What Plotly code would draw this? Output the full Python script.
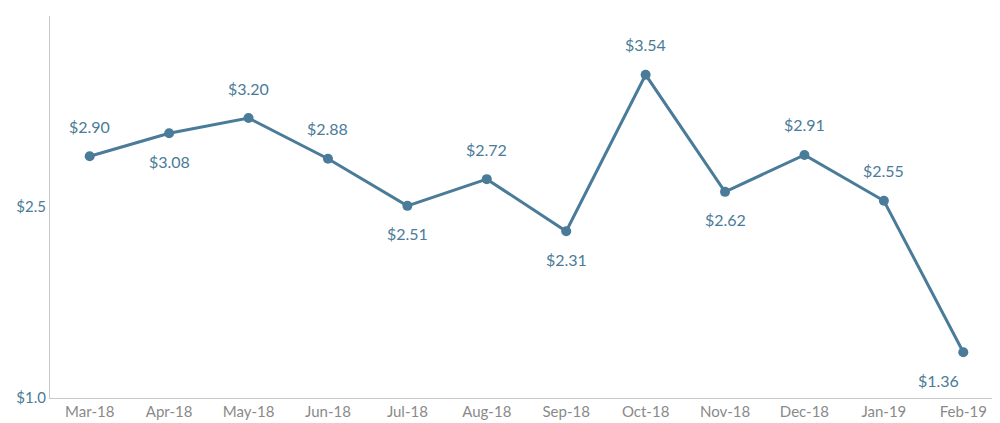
import plotly.graph_objects as go

months = ["Mar-18","Apr-18","May-18","Jun-18","Jul-18","Aug-18","Sep-18","Oct-18","Nov-18","Dec-18","Jan-19","Feb-19"]
values = [2.90, 3.08, 3.20, 2.88, 2.51, 2.72, 2.31, 3.54, 2.62, 2.91, 2.55, 1.36]
above = [True, False, True, True, False, True, False, True, False, True, True, False]
xshift = [0, 0, 0, 0, 0, 0, 0, 0, 0, 0, 0, -25]
color = "#4a7b98"

fig = go.Figure(go.Scatter(
    x=months, y=values, mode="lines+markers",
    line=dict(color=color, width=3), marker=dict(size=10, color=color),
))
for m, v, a, xs in zip(months, values, above, xshift):
    fig.add_annotation(x=m, y=v, text=f"${v:.2f}", showarrow=False,
                       yshift=30 if a else -28, xshift=xs,
                       font=dict(size=16, color=color, family="Lato"))
fig.update_layout(
    width=1000, height=423, margin=dict(l=42, r=5, t=8, b=33),
    plot_bgcolor="white", paper_bgcolor="white", showlegend=False,
    font=dict(family="Lato", size=15, color="#8a8a8a"),
    xaxis=dict(showgrid=False, showline=True, linecolor="#c8c8c8", ticks="", range=[-0.5, 11.5]),
    yaxis=dict(range=[1, 4.002], tickvals=[1, 2.5, 4], ticktext=["$1.0", "$2.5", "$4.0"],
               tickfont=dict(color=color), showgrid=False, showline=True,
               linecolor="#c8c8c8", zeroline=False, ticks=""),
)
fig.write_html("out.html")
